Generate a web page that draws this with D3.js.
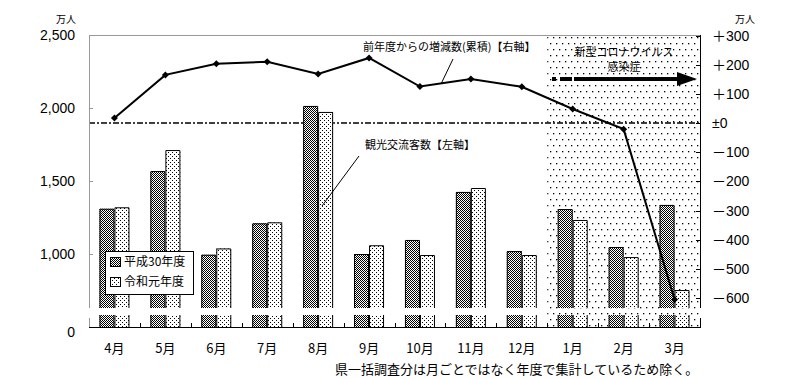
<!DOCTYPE html>
<html><head><meta charset="utf-8">
<script src="https://cdn.jsdelivr.net/npm/d3@7"></script>
<style>body{margin:0;background:#fff}svg{display:block}</style></head>
<body><svg id="c" width="811" height="379"></svg>
<script>
const months = ["4月","5月","6月","7月","8月","9月","10月","11月","12月","1月","2月","3月"];
const seriesNames = ["平成30年度","令和元年度"];
const h30 = [1310,1568,995,1210,2014,1000,1096,1425,1020,1308,1048,1336];
const r1  = [1320,1712,1038,1217,1973,1060,993,1452,993,1233,979,753];
const cumDiff = [17,165,203,210,168,223,125,151,124,48,-21,-605];
const leftTicks = [1000,1500,2000,2500];
const leftTickLabels = ["1,000","1,500","2,000","2,500"];
const rightTicks = [300,200,100,0,-100,-200,-300,-400,-500,-600];
const rightTickLabels = ["＋300","＋200","＋100","±0","－100","－200","－300","－400","－500","－600"];

const svg = d3.select("#c");
const L = 89, R = 700, T = 35, B = 327, gapTop = 308, gapBot = 315;
const FONT_NUM = "'Liberation Sans','Noto Sans CJK JP',sans-serif";
const FONT_JP = "'Noto Sans CJK JP',sans-serif";

const defs = svg.append("defs");
const p1 = defs.append("pattern").attr("id","dark").attr("width",2).attr("height",2).attr("patternUnits","userSpaceOnUse");
p1.append("rect").attr("width",2).attr("height",2).attr("fill","#fff");
p1.append("rect").attr("x",0).attr("y",0).attr("width",1).attr("height",1).attr("fill","#000");
p1.append("rect").attr("x",1).attr("y",1).attr("width",1).attr("height",1).attr("fill","#000");
const p2 = defs.append("pattern").attr("id","light").attr("width",4).attr("height",4).attr("patternUnits","userSpaceOnUse");
p2.append("rect").attr("width",4).attr("height",4).attr("fill","#fff");
p2.append("rect").attr("x",0).attr("y",0).attr("width",1).attr("height",1).attr("fill","#000");
p2.append("rect").attr("x",2).attr("y",2).attr("width",1).attr("height",1).attr("fill","#000");
const p3 = defs.append("pattern").attr("id","shade").attr("width",6).attr("height",12).attr("patternUnits","userSpaceOnUse");
p3.append("rect").attr("width",6).attr("height",12).attr("fill","#fff");
p3.append("rect").attr("x",1).attr("y",1).attr("width",1.3).attr("height",1.3).attr("fill","#000");
p3.append("rect").attr("x",4).attr("y",7).attr("width",1.3).attr("height",1.3).attr("fill","#000");

const x = d3.scaleBand().domain(months).range([L,R]);
const xs = d3.scaleBand().domain(seriesNames).range([0,30]);
const yL = d3.scaleLinear().domain([1000,2500]).range([254,35]);
const yR = d3.scaleLinear().domain([0,300]).range([123,35.5]);

svg.append("rect").attr("x",x("1月")).attr("y",T).attr("width",R - x("1月")).attr("height",B-T).attr("fill","url(#shade)");

svg.append("line").attr("x1",L).attr("x2",R).attr("y1",yR(0)).attr("y2",yR(0))
  .attr("stroke","#000").attr("stroke-width",1.5).attr("stroke-dasharray","6,2,2,2");

const data = [];
months.forEach((m,i)=>{ data.push({m, s:seriesNames[0], v:h30[i], fill:"url(#dark)"}); data.push({m, s:seriesNames[1], v:r1[i], fill:"url(#light)"}); });
const off = (x.bandwidth()-30)/2;
const g = svg.append("g");
data.forEach(d=>{
  const x0 = x(d.m)+off+xs(d.s), w = xs.bandwidth(), top = yL(d.v);
  g.append("rect").attr("x",x0).attr("y",top).attr("width",w).attr("height",gapTop-top).attr("fill",d.fill);
  g.append("path").attr("d",`M${x0+0.5},${gapTop}V${top+0.5}H${x0+w-0.5}V${gapTop}`).attr("fill","none").attr("stroke","#000").attr("stroke-width",1);
  g.append("rect").attr("x",x0).attr("y",gapBot).attr("width",w).attr("height",B-gapBot).attr("fill",d.fill);
  g.append("path").attr("d",`M${x0+0.5},${gapBot}V${B}M${x0+w-0.5},${gapBot}V${B}`).attr("fill","none").attr("stroke","#000").attr("stroke-width",1);
});

svg.append("line").attr("x1",L).attr("x2",R+1).attr("y1",T+0.5).attr("y2",T+0.5).attr("stroke","#999");
svg.append("path").attr("d",`M${L+0.5},${T}V${gapTop}M${L+0.5},${gapBot+3}V${B}`).attr("stroke","#999").attr("fill","none");
svg.append("path").attr("d",`M${R+0.5},${T}V${gapTop}M${R+0.5},${gapBot+3}V${B}`).attr("stroke","#000").attr("fill","none");
svg.append("line").attr("x1",L).attr("x2",R+1).attr("y1",B+0.5).attr("y2",B+0.5).attr("stroke","#000");
leftTicks.forEach((t,i)=>{
  svg.append("line").attr("x1",L).attr("x2",L+4).attr("y1",Math.round(yL(t))+0.5).attr("y2",Math.round(yL(t))+0.5).attr("stroke","#999");
  svg.append("text").attr("x",75).attr("y",yL(t)).attr("dy","0.36em").attr("text-anchor","end")
    .attr("font-family",FONT_NUM).attr("font-size",14).text(leftTickLabels[i]);
});
svg.append("text").attr("x",75).attr("y",332).attr("dy","0.36em").attr("text-anchor","end").attr("font-family",FONT_NUM).attr("font-size",14).text("0");
rightTicks.forEach((t,i)=>{
  svg.append("line").attr("x1",R-4).attr("x2",R+1).attr("y1",Math.round(yR(t))+0.5).attr("y2",Math.round(yR(t))+0.5).attr("stroke","#000");
  svg.append("text").attr("x",712).attr("y",yR(t)).attr("dy","0.36em").attr("text-anchor","start")
    .attr("font-family",FONT_NUM).attr("font-size",14).text(rightTickLabels[i]);
});
months.forEach((m,i)=>{ if(i>0) svg.append("line").attr("x1",Math.round(x(m))+0.5).attr("x2",Math.round(x(m))+0.5).attr("y1",B-4).attr("y2",B).attr("stroke","#000"); });
svg.append("g").selectAll("text").data(months).join("text")
  .attr("x",d=>x(d)+x.bandwidth()/2).attr("y",353).attr("text-anchor","middle")
  .attr("font-family",FONT_JP).attr("font-size",13).text(d=>d);

svg.append("text").attr("x",76).attr("y",19).attr("dy","0.36em").attr("text-anchor","end").attr("font-family",FONT_JP).attr("font-size",10).text("万人");
svg.append("text").attr("x",735).attr("y",19).attr("dy","0.36em").attr("font-family",FONT_JP).attr("font-size",10).text("万人");

const line = d3.line().x((d,i)=>x(months[i])+x.bandwidth()/2).y(d=>yR(d));
svg.append("path").datum(cumDiff).attr("d",line).attr("fill","none").attr("stroke","#000").attr("stroke-width",2);
svg.append("g").selectAll("path").data(cumDiff).join("path")
  .attr("transform",(d,i)=>`translate(${x(months[i])+x.bandwidth()/2},${yR(d)})`)
  .attr("d","M0,-3.5L3.5,0L0,3.5L-3.5,0Z").attr("fill","#000");

svg.append("rect").attr("x",105.5).attr("y",251.5).attr("width",88).attr("height",43).attr("fill","#fff").attr("stroke","#000");
[["url(#dark)",seriesNames[0],257],["url(#light)",seriesNames[1],277]].forEach(([f,t,yy])=>{
  svg.append("rect").attr("x",110.5).attr("y",yy+0.5).attr("width",10).attr("height",9).attr("fill",f).attr("stroke","#000");
  svg.append("text").attr("x",124).attr("y",yy+5).attr("dy","0.36em").attr("font-family",FONT_JP).attr("font-size",12).text(t);
});

svg.append("text").attr("x",363).attr("y",47).attr("dy","0.36em").attr("font-family",FONT_JP).attr("font-size",11).text("前年度からの増減数(累積)【右軸】");
svg.append("line").attr("x1",453).attr("y1",59).attr("x2",441).attr("y2",84).attr("stroke","#000");
svg.append("text").attr("x",365).attr("y",145).attr("dy","0.36em").attr("font-family",FONT_JP).attr("font-size",11).text("観光交流客数【左軸】");
svg.append("line").attr("x1",359).attr("y1",156).attr("x2",322).attr("y2",206).attr("stroke","#000");
svg.append("text").attr("x",624).attr("y",52).attr("dy","0.36em").attr("text-anchor","middle").attr("font-family",FONT_JP).attr("font-size",11).text("新型コロナウイルス");
svg.append("text").attr("x",624).attr("y",67).attr("dy","0.36em").attr("text-anchor","middle").attr("font-family",FONT_JP).attr("font-size",11).text("感染症");
svg.append("rect").attr("x",552).attr("y",77).attr("width",4).attr("height",4).attr("fill","#000");
svg.append("rect").attr("x",560).attr("y",77).attr("width",12).attr("height",4).attr("fill","#000");
svg.append("rect").attr("x",574).attr("y",77).attr("width",105).attr("height",4).attr("fill","#000");
svg.append("path").attr("d","M677,72L697,79L677,86Z").attr("fill","#000");

svg.append("text").attr("x",335).attr("y",374).attr("font-family",FONT_JP).attr("font-size",13).text("県一括調査分は月ごとではなく年度で集計しているため除く。");
</script></body></html>
